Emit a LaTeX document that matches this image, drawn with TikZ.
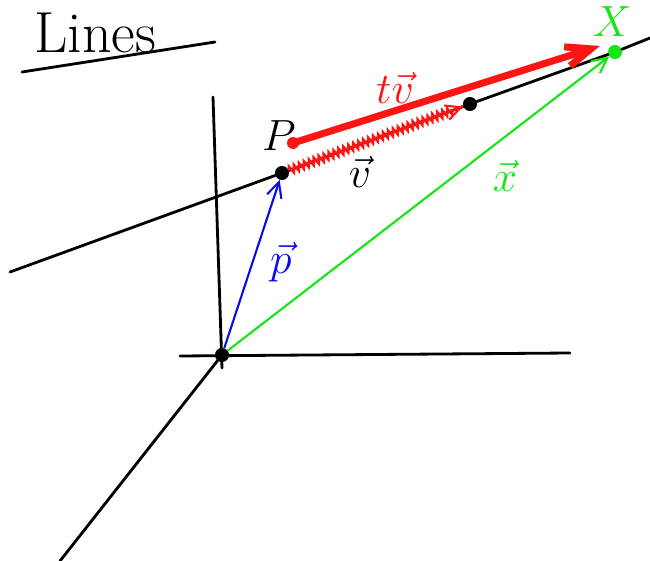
\documentclass[tikz,border=0pt]{standalone}
\usepackage{amsmath}
\usepackage{tikz}
\usetikzlibrary{arrows.meta,positioning,calc,decorations.pathmorphing}
\definecolor{penred}{RGB}{255,20,20}
\definecolor{pengreen}{RGB}{20,230,20}
\definecolor{penblue}{RGB}{10,10,240}

\begin{document}
\begin{tikzpicture}[
  x=0.02cm, y=-0.02cm,
  axis/.style={line width=1.6pt, line cap=round},
  dot/.style={circle, fill=black, inner sep=0pt, minimum size=8pt},
  arrow/.style={-{Straight Barb[length=3mm, width=3mm]}, line width=1.2pt},
  hatch/.style={decorate, decoration={zigzag, amplitude=2pt, segment length=3pt, post length=6pt}},
  lbl/.style={font=\fontsize{28}{30}\selectfont}
]
\useasboundingbox (0,0) rectangle (650,561);

% title
\node[font=\fontsize{33}{36}\selectfont, anchor=base west, inner sep=0pt] (title) at (34,52) {Lines};
\draw[axis] (22,72) -- (215,42);

% axes
\draw[axis] (213,97) -- (222,368);
\draw[axis] (180,356) -- (570,353);
\draw[axis] (222,355) -- (60,561);

% points
\node[dot] (O) at (222,355) {};
\node[dot] (P) at (282,173) {};
\node[dot] (Q) at (470,104) {};
\node[dot, fill=pengreen] (X) at (615,52) {};
\coordinate (L1) at (10,272);
\coordinate (L2) at (650,38);
\coordinate (T1) at (293,143);
\coordinate (T2) at (600,46);

% the line
\draw[axis] (L1) -- (P) -- (Q) -- (X) -- (L2);

% vectors
\draw[arrow, penblue] (O) -- (P);
\draw[arrow, pengreen] (O) -- (X);
\draw[penred, line width=1.4pt, hatch] (P) -- (Q);
\draw[arrow, penred] ($(P)!0.1!(Q)$) -- (Q);
\draw[-{Straight Barb[length=5mm, width=4mm]}, penred, line width=4pt] (T1) -- (T2);
\fill[penred] (T1) circle (6);

% labels
\node[lbl] (pl) at (279,136) {$P$};
\node[lbl, penred] (tvl) at (395,88) {$t\vec{v}$};
\node[lbl] (vl) at (360,172) {$\vec{v}$};
\node[lbl, penblue] (pvl) at (281,262) {$\vec{p}$};
\node[lbl, pengreen] (xvl) at (505,176) {$\vec{x}$};
\node[font=\fontsize{24}{26}\selectfont, pengreen] (xl) at (612,22) {$X$};
\end{tikzpicture}
\end{document}
